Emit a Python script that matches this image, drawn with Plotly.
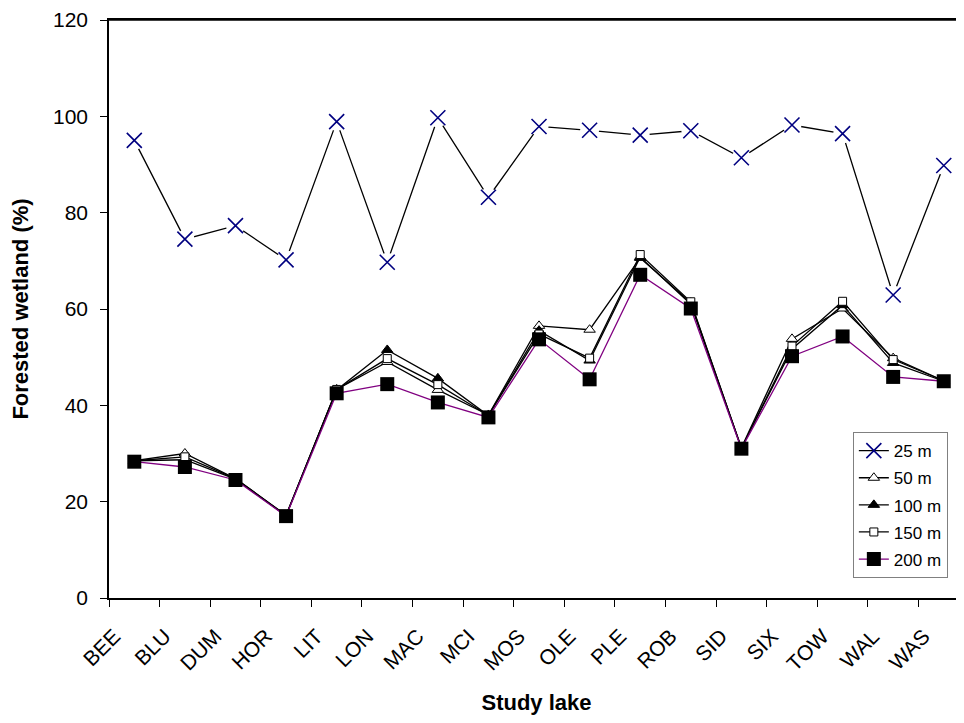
"""Forested wetland share by buffer distance around each study lake."""

import plotly.graph_objects as go

lakes = ["BEE", "BLU", "DUM", "HOR", "LIT", "LON", "MAC", "MCI", "MOS",
         "OLE", "PLE", "ROB", "SID", "SIX", "TOW", "WAL", "WAS"]

wet_25 = [95.0, 74.5, 77.3, 70.2, 98.9, 69.7, 99.7, 83.2, 97.9,
          97.1, 96.1, 97.0, 91.4, 98.2, 96.4, 62.9, 89.8]
wet_50 = [28.5, 30.0, 24.8, 17.2, 43.3, 49.0, 43.2, 38.0, 56.5,
          55.7, 70.6, 61.3, 31.2, 53.8, 60.1, 49.8, 45.1]
wet_100 = [28.5, 28.7, 24.7, 17.1, 43.2, 51.5, 45.6, 37.9, 55.5,
           49.3, 70.8, 61.0, 31.1, 51.7, 60.8, 48.8, 45.0]
wet_150 = [28.5, 29.3, 24.8, 17.1, 43.3, 49.7, 44.3, 37.9, 54.8,
           49.8, 71.3, 61.5, 31.1, 52.3, 61.6, 49.5, 45.1]
wet_200 = [28.3, 27.2, 24.5, 17.0, 42.5, 44.4, 40.6, 37.5, 53.7,
           45.4, 67.1, 60.1, 31.0, 50.2, 54.3, 45.9, 45.0]

FONT = "Liberation Sans, Arial, sans-serif"
NAVY = "#000080"

fig = go.Figure()

# 25 m: line first, white knock-out under the crosses so the line stops short
fig.add_trace(go.Scatter(
    x=lakes, y=wet_25, mode="lines", showlegend=False, hoverinfo="skip",
    line=dict(color="black", width=1.3),
))
fig.add_trace(go.Scatter(
    x=lakes, y=wet_25, mode="markers", showlegend=False, hoverinfo="skip",
    marker=dict(symbol="circle", size=19, color="white", line=dict(width=0)),
))
fig.add_trace(go.Scatter(
    x=lakes, y=wet_25, mode="markers", showlegend=False,
    marker=dict(symbol="x-thin", size=15, line=dict(color=NAVY, width=1.6)),
))
# legend-only entry for 25 m
fig.add_trace(go.Scatter(
    x=[None], y=[None], mode="lines+markers", name="25 m", legendgroup="g25",
    line=dict(color="black", width=1.3),
    marker=dict(symbol="x-thin", size=15, line=dict(color=NAVY, width=1.6)),
))

fig.add_trace(go.Scatter(
    x=lakes, y=wet_50, mode="lines+markers", name="50 m", legendgroup="g50",
    line=dict(color="black", width=1.3),
    marker=dict(symbol="triangle-up", size=10, color="white",
                line=dict(color="black", width=1)),
))
fig.add_trace(go.Scatter(
    x=lakes, y=wet_100, mode="lines+markers", name="100 m", legendgroup="g100",
    line=dict(color="black", width=1.3),
    marker=dict(symbol="triangle-up", size=10, color="black",
                line=dict(color="black", width=1)),
))
fig.add_trace(go.Scatter(
    x=lakes, y=wet_150, mode="lines+markers", name="150 m", legendgroup="g150",
    line=dict(color="black", width=1.3),
    marker=dict(symbol="square", size=8, color="white",
                line=dict(color="black", width=1)),
))
fig.add_trace(go.Scatter(
    x=lakes, y=wet_200, mode="lines+markers", name="200 m", legendgroup="g200",
    line=dict(color="#800080", width=1.3),
    marker=dict(symbol="square", size=14, color="black",
                line=dict(color="black", width=0)),
))

fig.update_xaxes(
    type="category", range=[-0.5, 16.4],
    tickson="boundaries", ticks="outside", ticklen=7, tickwidth=1.3,
    tickcolor="black", tickangle=-45,
    ticklabelstandoff=16, ticklabelshift=-20, ticklabeloverflow="allow",
    showline=True, linecolor="black", linewidth=1.5, mirror=True,
    showgrid=False, zeroline=False,
    tickfont=dict(family=FONT, size=21, color="black"),
    title=dict(text="<b>Study lake</b>", standoff=25,
               font=dict(family=FONT, size=22, color="black")),
)
fig.update_yaxes(
    range=[0, 120], tickvals=[0, 20, 40, 60, 80, 100, 120],
    ticks="outside", ticklen=7, tickwidth=1.3, tickcolor="black",
    ticklabelstandoff=8, ticklabeloverflow="allow",
    showline=True, linecolor="black", linewidth=1.5,
    showgrid=False, zeroline=False,
    tickfont=dict(family=FONT, size=21, color="black"),
    title=dict(text="<b>Forested wetland (%)</b>", standoff=18,
               font=dict(family=FONT, size=22, color="black")),
)

fig.update_layout(
    width=956, height=707,
    margin=dict(l=101, r=0, t=11, b=115),
    paper_bgcolor="white", plot_bgcolor="white",
    font=dict(family=FONT, color="black"),
    legend=dict(
        x=0.870, y=0.287, xanchor="left", yanchor="top",
        bgcolor="white", bordercolor="#808080", borderwidth=1,
        font=dict(family=FONT, size=17, color="black"),
        itemwidth=30, tracegroupgap=2,
    ),
    # plot-area top border
    shapes=[dict(type="line", xref="paper", yref="paper",
                 x0=0, x1=1, y0=1, y1=1,
                 line=dict(color="black", width=1.5))],
)

fig.write_html("out.html")
